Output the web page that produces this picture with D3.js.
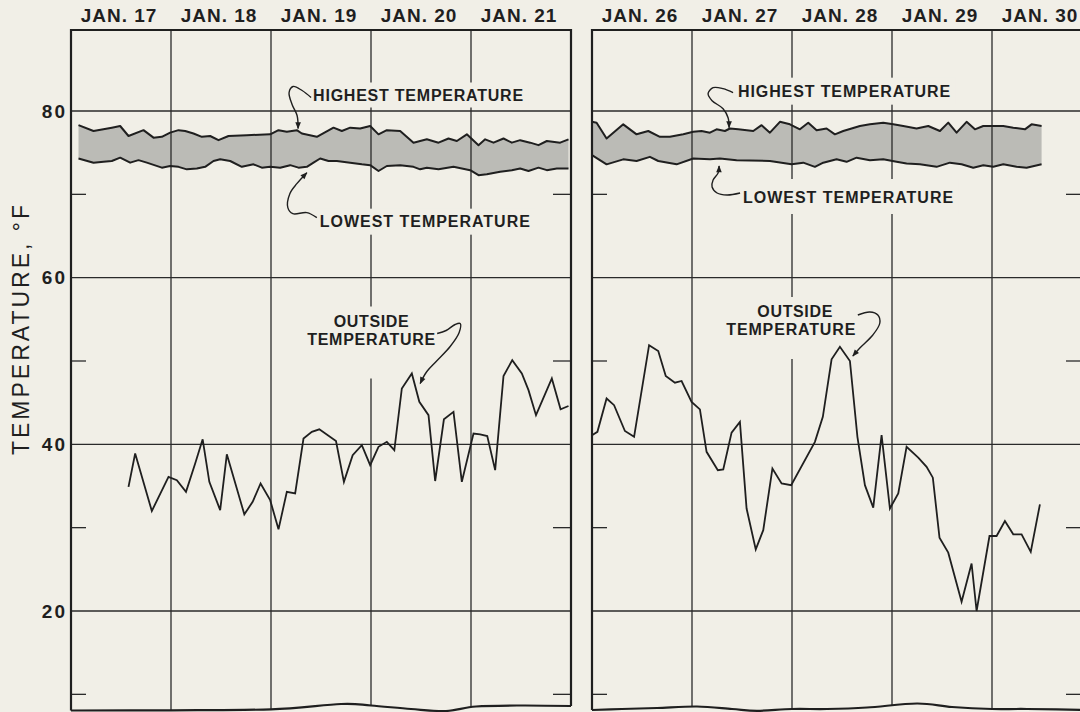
<!DOCTYPE html>
<html><head><meta charset="utf-8">
<script src="https://cdn.jsdelivr.net/npm/d3@7"></script>
<style>html,body{margin:0;padding:0;background:#f1efe7;} svg{display:block;}</style>
</head><body>
<svg id="chart" width="1080" height="712"></svg>
<script>
// ---------------- data ----------------
const daysA = ["JAN. 17","JAN. 18","JAN. 19","JAN. 20","JAN. 21"];
const daysB = ["JAN. 26","JAN. 27","JAN. 28","JAN. 29","JAN. 30"];
const yTicks = [20,40,60,80];
const yMinor = [10,30,50,70];
const yTitle = "TEMPERATURE, °F";
// [hours from start of first day, °F]
const highA = [[1.8,78.3],[5.4,77.6],[9.8,78.0],[11.8,78.2],[13.8,77.0],[17.4,77.7],[19.8,76.8],[21.8,76.9],[23.8,77.4],[25.8,77.7],[27.4,77.6],[29.4,77.3],[31.4,76.9],[33.4,77.0],[35.4,76.5],[37.8,77.0],[42.2,77.1],[47.8,77.2],[49.8,77.7],[51.8,77.5],[54.2,77.7],[55.4,77.3],[59,76.9],[63,78.0],[65,77.6],[67,78.0],[69.4,77.9],[71.8,78.2],[73.8,77.2],[75.8,77.7],[79,77.6],[82.2,76.2],[85.4,76.6],[88.2,76.2],[90.6,76.7],[92.6,76.4],[95,77.2],[97.8,75.9],[99.4,76.6],[101.4,76.2],[103.8,76.7],[105.8,76.2],[107.8,76.5],[110.2,76.2],[112.2,75.9],[114.2,76.4],[117.4,76.2],[119.4,76.6]];
const lowA = [[1.8,74.3],[5.4,73.8],[7.8,73.9],[9.8,74.0],[11.8,74.4],[14.2,73.8],[16.2,74.1],[18.2,73.8],[21.8,73.2],[23.8,73.4],[25.8,73.3],[27.8,73.0],[30.2,73.1],[32.2,73.3],[34.2,74.0],[35.8,74.2],[38.2,74.0],[41.0,73.3],[43.8,73.6],[45.8,73.2],[47.8,73.3],[50.2,73.2],[52.6,73.5],[54.6,73.2],[56.6,73.3],[58.2,73.8],[59.8,74.3],[61.8,74.0],[63.8,74.0],[67,73.8],[69.8,73.6],[71.8,73.5],[73.8,72.8],[75.8,73.4],[79,73.5],[82.2,73.3],[83.8,73.0],[85.4,73.2],[88.2,73.0],[91.8,73.3],[95.8,72.9],[97.8,72.3],[99.8,72.4],[103,72.7],[105.8,72.9],[107.8,73.1],[109.8,72.8],[112.2,73.2],[114.2,72.9],[116.6,73.1],[119.4,73.1]];
const outA = [[13.8,34.9],[15.4,38.9],[19.4,32.0],[23.4,36.1],[25.4,35.7],[27.6,34.3],[29.8,37.7],[31.6,40.6],[33.2,35.5],[35.8,32.1],[37.4,38.8],[41.6,31.6],[43.6,33.1],[45.5,35.3],[47.8,33.3],[49.8,29.8],[51.8,34.3],[53.8,34.1],[55.8,40.7],[57.8,41.5],[59.6,41.8],[63.6,40.4],[65.5,35.5],[67.6,38.7],[69.8,39.9],[71.8,37.5],[73.8,39.7],[75.8,40.3],[77.6,39.3],[79.4,46.7],[81.8,48.5],[83.6,45.1],[85.8,43.5],[87.4,35.6],[89.5,43.0],[91.8,43.9],[93.8,35.5],[96.6,41.3],[98.2,41.2],[99.9,41.0],[101.8,36.9],[103.8,48.2],[105.9,50.1],[108.2,48.5],[109.8,46.5],[111.6,43.5],[115.4,47.9],[117.5,44.2],[119.4,44.6]];
const highB = [[0,78.7],[1.1,78.6],[3.5,76.7],[7.5,78.4],[10.7,77.2],[13.5,77.6],[16.3,76.9],[18.7,76.9],[21.9,77.2],[24.3,77.5],[26.3,77.6],[28.3,77.4],[29.9,77.8],[31.9,77.6],[33.1,77.9],[35.1,77.8],[38.7,77.6],[40.7,78.3],[42.7,77.4],[45.1,78.7],[47.5,78.4],[49.9,77.8],[51.9,78.6],[53.9,77.7],[56.3,77.9],[58.3,77.2],[60.3,77.6],[64.3,78.2],[66.7,78.4],[69.9,78.6],[72.3,78.4],[74.7,78.2],[77.9,77.9],[80.7,78.2],[83.5,77.6],[85.5,78.6],[87.5,77.4],[89.9,78.7],[91.9,77.8],[93.9,78.2],[96.3,78.2],[98.7,78.2],[101.1,78.0],[103.9,77.8],[105.5,78.4],[107.9,78.2]];
const lowB = [[0,74.7],[3.5,73.6],[7.5,74.2],[10.7,74.0],[13.9,74.5],[15.9,74.0],[20.3,73.6],[24.3,74.3],[28.3,74.2],[30.7,74.3],[34.7,74.1],[42.7,74.0],[47.9,73.6],[50.7,73.8],[53.5,73.3],[55.5,73.8],[58.7,74.2],[61.1,73.9],[63.5,74.4],[66.7,74.1],[69.9,74.2],[73.1,73.9],[75.5,73.7],[78.7,73.6],[82.7,73.3],[85.9,73.8],[88.7,73.6],[91.5,73.2],[93.9,73.5],[96.3,73.3],[98.7,73.6],[101.9,73.3],[104.3,73.2],[107.9,73.6]];
const outB = [[0,41.1],[1.3,41.5],[3.5,45.5],[5.3,44.7],[7.9,41.6],[10.1,40.9],[13.7,51.9],[15.9,51.2],[17.7,48.2],[19.9,47.4],[21.5,47.6],[23.9,45.1],[25.9,44.2],[27.5,39.1],[30.2,36.9],[31.5,37.0],[33.5,41.4],[35.5,42.7],[37.1,32.3],[39.3,27.4],[41.1,29.7],[43.3,37.1],[45.5,35.3],[47.8,35.1],[53.5,40.3],[55.4,43.3],[57.5,50.2],[59.5,51.7],[61.9,50.0],[63.7,40.9],[65.5,35.1],[67.5,32.4],[69.5,41.1],[71.5,32.3],[73.5,34.1],[75.5,39.7],[78.3,38.4],[80.3,37.3],[81.8,36.0],[83.4,28.8],[85.5,27.0],[88.7,21.1],[91.1,25.7],[92.3,20.0],[95.4,29.0],[97.1,29.0],[99.1,30.8],[101.1,29.2],[103.1,29.2],[105.3,27.1],[107.5,32.8]];

// ---------------- layout ----------------
const BG = "#f1efe7", INK = "#1f1f1f", BAND = "#bbbbb6";
const FONT = "'Liberation Sans', Arial, sans-serif";
const TOP = 30, PW = 500;
const y = d3.scaleLinear().domain([20, 80]).range([611, 111]);

const panels = [
  { x0: 71, days: daysA, high: highA, low: lowA, out: outA,
    wave: [[0,710.5],[0.2,710.3],[0.4,709.3],[0.54,704],[0.6,705.5],[0.68,709],[0.75,711],[0.81,706.5],[0.9,705.5],[1,706]],
    notes: [
      { lines:["HIGHEST TEMPERATURE"], tip:[54.5,77.9], text:[[15,-28]], len:[210], anchor:"start",
        path:[[13,-31],[4,-38],[-5,-42],[-9,-36],[-6,-24],[-1,-13],[0,0]], pad:[5,5,6,6] },
      { lines:["LOWEST TEMPERATURE"], tip:[56.6,72.6], text:[[13,54]], len:[210], anchor:"start",
        path:[[10,45],[0,40],[-14,41],[-19,35],[-17,21],[-10,11],[0,0]], pad:[5,5,6,7] },
      { lines:["OUTSIDE","TEMPERATURE"], tip:[83.8,47.3], text:[[-49,-57],[-49,-39]], len:[75,128], anchor:"middle",
        path:[[17,-50],[26,-53],[35,-59],[40,-60],[39,-51],[30,-37],[16,-22],[6,-11],[0,0]], pad:[5,5,8,33] }
    ] },
  { x0: 592, days: daysB, high: highB, low: lowB, out: outB,
    wave: [[0,710],[0.06,709],[0.13,708],[0.21,706.5],[0.28,709],[0.33,710.8],[0.4,709],[0.47,709],[0.55,707.5],[0.65,703.5],[0.72,707],[0.8,709],[0.87,709],[1,710]],
    notes: [
      { lines:["HIGHEST TEMPERATURE"], tip:[32.9,78.0], text:[[9,-31]], len:[212], anchor:"start",
        path:[[4,-35],[-6,-39],[-16,-40],[-21,-34],[-17,-27],[-6,-19],[-1,-10],[0,0]], pad:[5,5,7,7] },
      { lines:["LOWEST TEMPERATURE"], tip:[30.5,73.4], text:[[24,37]], len:[210], anchor:"start",
        path:[[21,27],[8,29],[-2,27],[-7,21],[-6,14],[-1,7],[0,0]], pad:[5,5,12,10] },
      { lines:["OUTSIDE","TEMPERATURE"], tip:[62.6,50.6], text:[[-58,-39],[-62,-21]], len:[75,129], anchor:"middle",
        path:[[5,-41],[17,-44],[25,-41],[27,-33],[20,-21],[7,-8],[0,0]], pad:[5,5,8,23] }
    ] }
];

// ---------------- draw ----------------
const svg = d3.select("#chart");
svg.append("rect").attr("width",1080).attr("height",712).attr("fill",BG);

const defs = svg.append("defs");
defs.append("marker").attr("id","arrow").attr("viewBox","0 0 10 10")
  .attr("refX",9).attr("refY",5).attr("markerWidth",9).attr("markerHeight",7)
  .attr("markerUnits","userSpaceOnUse").attr("orient","auto")
  .append("path").attr("d","M0,1 L10,5 L0,9 Z").attr("fill",INK);

panels.forEach((p, pi) => {
  const x = d3.scaleLinear().domain([0,120]).range([p.x0, p.x0 + PW]);
  const g = svg.append("g");
  const line = d3.line().x(d => x(d[0])).y(d => y(d[1]));

  // band fill
  const poly = p.high.concat(p.low.slice().reverse());
  g.append("path").attr("d", line(poly) + "Z").attr("fill", BAND).attr("stroke","none");

  // grid
  const grid = g.append("g").attr("stroke", "#2a2a2a").attr("stroke-width", 1.3);
  yTicks.forEach(t => grid.append("line")
    .attr("x1", x(0)).attr("x2", x(120)).attr("y1", y(t)).attr("y2", y(t)));
  [24,48,72,96].forEach(h => grid.append("line")
    .attr("x1", x(h)).attr("x2", x(h)).attr("y1", TOP).attr("y2", 712));
  yMinor.forEach(t => {
    grid.append("line").attr("x1", x(0)).attr("x2", x(0) + 15).attr("y1", y(t)).attr("y2", y(t));
    grid.append("line").attr("x1", x(120) - (pi === 1 ? 26 : 18)).attr("x2", x(120)).attr("y1", y(t)).attr("y2", y(t));
  });

  // knock-out layer and lines
  const knock = g.append("g");
  g.append("path").attr("d", line(p.high)).attr("fill","none").attr("stroke",INK)
    .attr("stroke-width",2).attr("stroke-linejoin","round");
  g.append("path").attr("d", line(p.low)).attr("fill","none").attr("stroke",INK)
    .attr("stroke-width",2).attr("stroke-linejoin","round");
  g.append("path").attr("d", line(p.out)).attr("fill","none").attr("stroke",INK)
    .attr("stroke-width",1.8).attr("stroke-linejoin","miter");

  // broken bottom edge
  const wx = d3.scaleLinear().domain([0,1]).range([x(0), x(120)]);
  const wave = d3.line().x(d => wx(d[0])).y(d => d[1]).curve(d3.curveCardinal);
  g.append("path").attr("d", wave(p.wave) + `L${x(120)+4},714L${x(0)-4},714Z`)
    .attr("fill", BG).attr("stroke","none");
  g.append("path").attr("d", wave(p.wave)).attr("fill","none").attr("stroke",INK).attr("stroke-width",2.2);

  // borders
  const first = p.wave[0][1], last = p.wave[p.wave.length-1][1];
  g.append("path").attr("d", `M${x(0)},${first}V${TOP}H${x(120)}V${last}`)
    .attr("fill","none").attr("stroke",INK).attr("stroke-width",2.2);

  // day labels
  const xb = d3.scaleBand().domain(p.days).range([x(0), x(120)]);
  const ax = g.append("g").attr("transform", `translate(-2,${TOP - 8})`)
    .call(d3.axisTop(xb).tickSize(0).tickPadding(0));
  ax.select(".domain").remove();
  ax.selectAll("text").attr("font-family", FONT).attr("font-size", 19).attr("font-weight","bold")
    .attr("fill", INK).attr("letter-spacing", 1);

  // annotations
  const ann = g.append("g");
  const lead = d3.line().curve(d3.curveCatmullRom);
  p.notes.forEach(n => {
    const tx = x(n.tip[0]), ty = y(n.tip[1]);
    const boxes = [];
    n.lines.forEach((s, i) => {
      const t = ann.append("text").text(s)
        .attr("x", tx + n.text[i][0]).attr("y", ty + n.text[i][1])
        .attr("text-anchor", n.anchor).attr("font-family", FONT).attr("font-size", 16)
        .attr("font-weight","bold").attr("fill", INK)
        .attr("textLength", n.len[i]).attr("lengthAdjust","spacing");
      boxes.push(t.node().getBBox());
    });
    const x1 = d3.min(boxes, b => b.x), x2 = d3.max(boxes, b => b.x + b.width);
    const y1 = d3.min(boxes, b => b.y), y2 = d3.max(boxes, b => b.y + b.height);
    knock.append("rect").attr("x", x1 - n.pad[0]).attr("y", y1 + 2 - n.pad[2])
      .attr("width", x2 - x1 + n.pad[0] + n.pad[1]).attr("height", y2 - y1 - 4 + n.pad[2] + n.pad[3])
      .attr("fill", BG);
    ann.append("path").attr("d", lead(n.path.map(d => [tx + d[0], ty + d[1]])))
      .attr("fill","none").attr("stroke",INK).attr("stroke-width",1.4)
      .attr("marker-end","url(#arrow)");
  });

  // y labels (left panel only)
  if (pi === 0) {
    const ay = svg.append("g").attr("transform", `translate(${x(0)},0)`)
      .call(d3.axisLeft(y).tickValues(yTicks).tickSize(0).tickPadding(4));
    ay.select(".domain").remove();
    ay.selectAll("text").attr("font-family", FONT).attr("font-size", 19).attr("font-weight","bold")
      .attr("fill", INK).attr("letter-spacing", 2);
  }
});

svg.append("text").text(yTitle)
  .attr("transform", "translate(21,330) rotate(-90)")
  .attr("text-anchor","middle").attr("dy","0.36em")
  .attr("font-family", FONT).attr("font-size", 23).attr("fill", INK)
  .attr("textLength", 250).attr("lengthAdjust","spacing");
</script>
</body></html>
